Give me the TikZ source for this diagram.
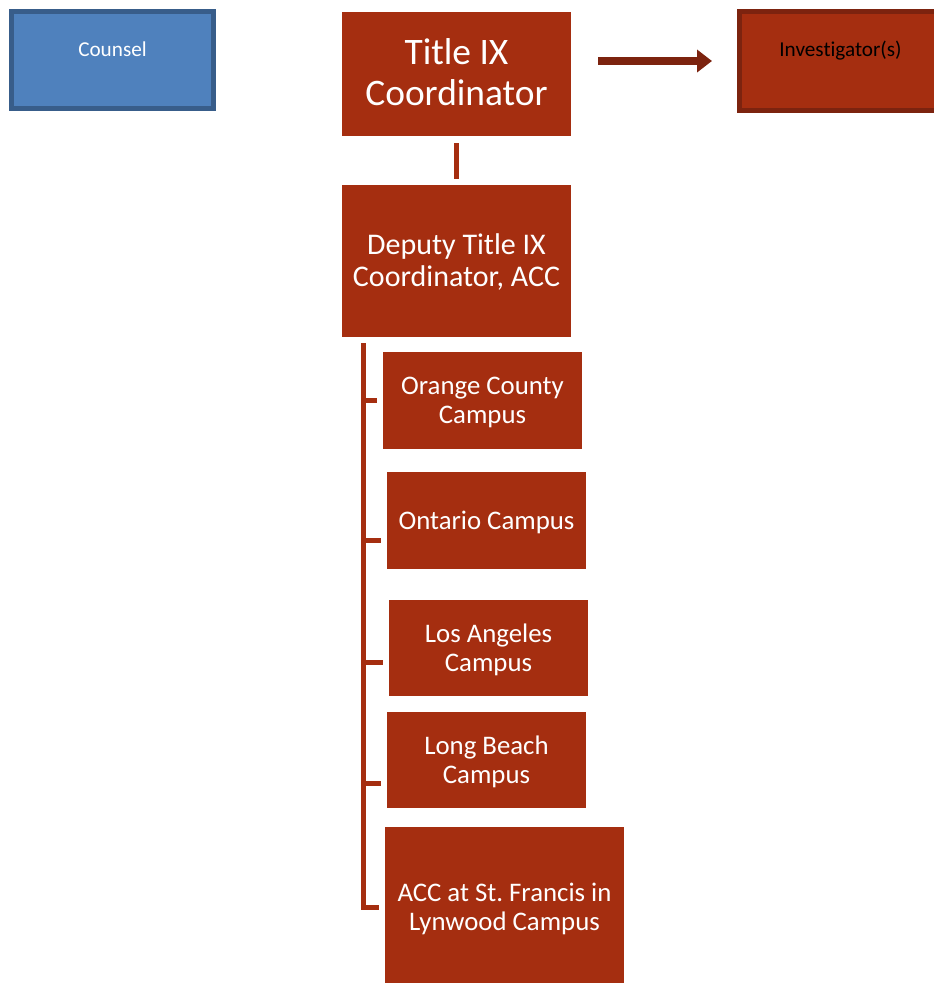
\documentclass[tikz,border=0pt]{standalone}
\usepackage{fontspec}
\setmainfont{Carlito}[Ligatures={NoCommon}]
\usetikzlibrary{arrows.meta}
\definecolor{rust}{RGB}{165,46,16}
\definecolor{rustdark}{RGB}{124,35,15}
\definecolor{bluefill}{RGB}{79,129,189}
\definecolor{blueedge}{RGB}{56,93,138}
\frenchspacing
\begin{document}
\begin{tikzpicture}[x=1pt,y=-1pt,
  redbox/.style={fill=rust, draw=none, inner sep=0pt, outer sep=0pt},
  edgebox/.style={line width=5pt, inner sep=0pt, outer sep=0pt},
  campus/.style={redbox, minimum width=199pt},
  wtext/.style={text=white, align=center, inner sep=0pt},
  ctext/.style={wtext, font=\fontsize{26.8}{29}\selectfont},
  link/.style={draw=rust, line width=5pt},
  bigarrow/.style={draw=rustdark, line width=8pt, -{Triangle[length=15pt,width=22pt]}}
]
\clip (0,0) rectangle (934,983);
\fill[white] (0,0) rectangle (934,983);

% top row
\node[edgebox, fill=bluefill, draw=blueedge, minimum width=202pt, minimum height=97pt] (counsel) at (112.5,60) {};
\node[wtext, font=\fontsize{21.2}{25}\selectfont] (counseltext) at (112.5,49.5) {Counsel};

\node[redbox, minimum width=229pt, minimum height=124pt] (title) at (456.5,74) {};
\node[wtext, font=\fontsize{37.4}{41}\selectfont] (titletext) at ([yshift=2pt]title.center) {Title IX\\Coordinator};

\node[edgebox, fill=rust, draw=rustdark, minimum width=203pt, minimum height=99pt] (inv) at (841,61) {};
\node[text=black, font=\fontsize{21.2}{25}\selectfont, inner sep=0pt] (invtext) at (840.5,50.5) {Investigator(s)};

\draw[bigarrow, shorten <=27pt, shorten >=27.5pt] (title.east |- inv.west) -- (inv.west);

% deputy
\node[redbox, minimum width=229pt, minimum height=152pt] (deputy) at (456.5,261) {};
\node[wtext, font=\fontsize{30}{32}\selectfont] (deputytext) at ([yshift=-1pt]deputy.center) {Deputy Title IX\\Coordinator, ACC};
\draw[link, shorten <=7pt, shorten >=6pt] (title.south) -- (deputy.north);

% campuses
\node[campus, minimum height=97pt] (oc) at (482.5,400.5) {};
\node[campus, minimum height=97pt] (ont) at (486.5,520.5) {};
\node[campus, minimum height=96pt] (la) at (488.5,648) {};
\node[campus, minimum height=96pt] (lb) at (486.5,760) {};
\node[campus, minimum width=239pt, minimum height=159pt] (acc) at (504.5,906.5) {};
\node[ctext] (octext) at ([yshift=-2pt]oc.center) {Orange County\\Campus};
\node[ctext] (onttext) at ([yshift=-1.5pt]ont.center) {Ontario Campus};
\node[ctext] (latext) at ([yshift=-2pt]la.center) {Los Angeles\\Campus};
\node[ctext] (lbtext) at ([yshift=-2pt]lb.center) {Long Beach\\Campus};
\node[ctext] (acctext) at ([yshift=-2pt]acc.center) {ACC at St. Francis in\\Lynwood Campus};

% bracket
\coordinate (bartop) at (363,343);
\coordinate (barbot) at (363,907);
\coordinate (tocc) at (377,400);
\coordinate (tont) at (381,540.5);
\coordinate (tla) at (383,662);
\coordinate (tlb) at (381,783);
\coordinate (tacc) at (379,907);
\draw[link, line join=miter] (bartop) -- (barbot) -- (tacc);
\draw[link] (bartop |- tocc) -- (tocc);
\draw[link] (bartop |- tont) -- (tont);
\draw[link] (bartop |- tla) -- (tla);
\draw[link] (bartop |- tlb) -- (tlb);
\end{tikzpicture}
\end{document}
